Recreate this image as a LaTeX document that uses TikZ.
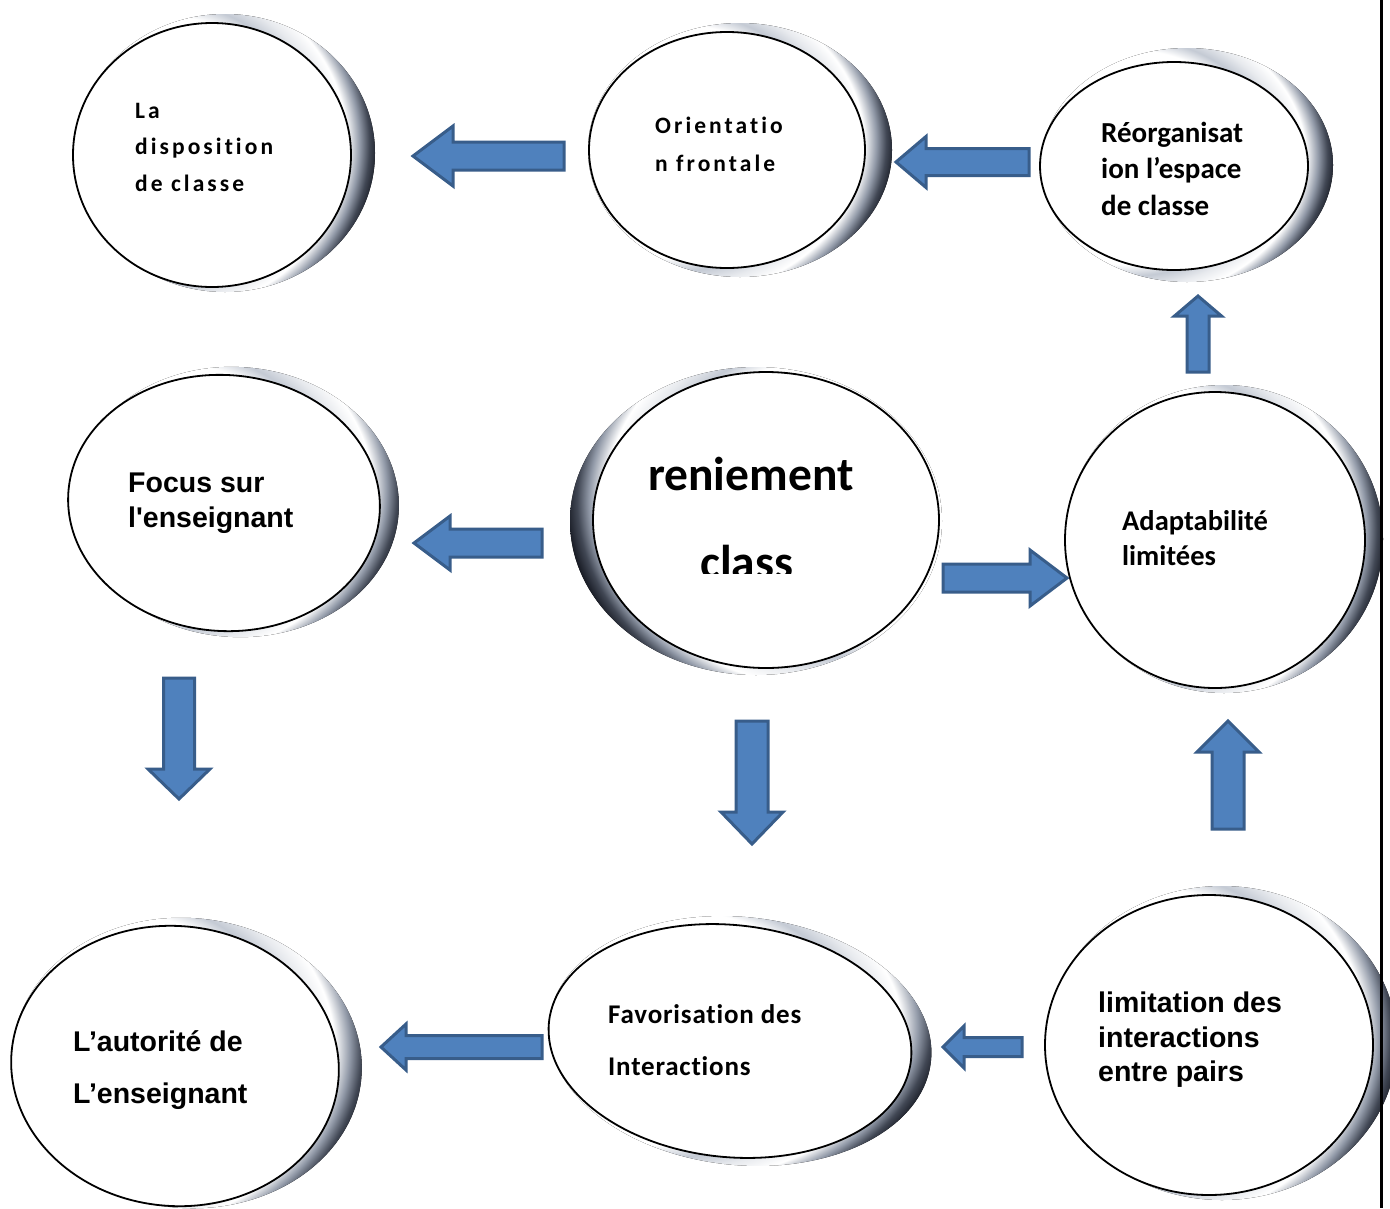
\documentclass[tikz,border=0pt]{standalone}
\usepackage{fontspec}
\setmainfont{Carlito}[Ligatures=NoCommon]
\newfontfamily\arialf{Liberation Sans}[Ligatures=TeXOff]
\newfontfamily\calsp{Carlito}[LetterSpace=13,Ligatures=NoCommon]
\newfontfamily\calfav{Carlito}[LetterSpace=3,Ligatures=NoCommon]
\usetikzlibrary{shapes.geometric}
\definecolor{arrowfill}{HTML}{4F81BD}
\definecolor{arrowline}{HTML}{385D8A}
\definecolor{ringdark}{RGB}{22,25,34}
\definecolor{ringmid}{RGB}{118,128,146}
\definecolor{ringlight}{RGB}{196,202,212}
\pgfdeclareradialshading{ringR}{\pgfpoint{-12bp}{2bp}}{color(0bp)=(white); color(23bp)=(white); color(25.5bp)=(ringlight); color(28bp)=(ringlight!40); color(30.5bp)=(white); color(32.5bp)=(ringmid!80); color(34bp)=(ringmid!45!ringdark); color(35.5bp)=(ringdark); color(37bp)=(ringdark!80); color(200bp)=(ringdark!80)}
\pgfdeclareradialshading{ringL}{\pgfpoint{12bp}{4bp}}{color(0bp)=(white); color(23bp)=(white); color(25.5bp)=(ringlight); color(28bp)=(ringlight!40); color(30.5bp)=(white); color(32.5bp)=(ringmid!80); color(34bp)=(ringmid!45!ringdark); color(35.5bp)=(ringdark); color(37bp)=(ringdark!80); color(200bp)=(ringdark!80)}
\newcommand{\brot}{0}
\tikzset{
  bub/.style={ellipse, draw=black, line width=1.8pt, fill=white, inner sep=0pt},
  blk/.style={fill=arrowfill, draw=arrowline, line width=3pt, line join=miter},
  lab/.style={anchor=base west, inner sep=0pt},
  fsp/.style={font=\calsp\bfseries\fontsize{23.5}{28}\selectfont},
  fcal/.style={font=\bfseries\fontsize{29}{34}\selectfont},
  fcalm/.style={font=\bfseries\fontsize{28.5}{34}\selectfont},
  fbig/.style={font=\bfseries\fontsize{47.5}{56}\selectfont},
  fari/.style={font=\arialf\bfseries\fontsize{28.5}{34}\selectfont},
  ffav/.style={font=\calfav\bfseries\fontsize{27}{32}\selectfont},
}
% name, cx, cy, rx, ry, {outer centre}, orx, ory, shading
\newcommand{\bubble}[9]{%
  \fill[shading=#9, rotate around={\brot:(#6)}] (#6) ellipse [x radius=#7pt, y radius=#8pt];
  \node[bub, rotate=\brot, minimum width=2*#4pt, minimum height=2*#5pt] (#1) at (#2,#3) {};
}
% tip x, tip y, angle, length, shaft half, head half, head length
\newcommand{\blkarrow}[7]{%
  \draw[blk, shift={(#1,#2)}, rotate=#3] (0,0) -- (#7,#6) -- (#7,#5) -- (#4,#5) -- (#4,-#5) -- (#7,-#5) -- (#7,-#6) -- cycle;
}
\begin{document}
\begin{tikzpicture}[x=1pt,y=-1pt]
\useasboundingbox (0,0) rectangle (1390,1208);
\fill[white] (0,0) rectangle (1390,1208);

\bubble{disp}{212}{155}{139}{132}{225,153}{150}{139}{ringR}
\bubble{orient}{727}{150}{138}{118}{740,150}{152}{127}{ringR}
\bubble{reorg}{1174}{166}{134}{104}{1187,165}{146}{117}{ringR}
\renewcommand{\brot}{-4}
\bubble{focus}{224}{503}{156}{128}{236,502}{163}{135}{ringR}
\renewcommand{\brot}{0}
\bubble{center}{766}{520}{173}{148}{756,521}{186}{154}{ringL}
\bubble{adapt}{1215}{540}{150}{148}{1224,539}{159}{154}{ringR}
\renewcommand{\brot}{-5}
\bubble{autor}{175}{1066}{164}{140}{187,1063}{175}{145}{ringR}
\renewcommand{\brot}{-6}
\bubble{favor}{730}{1041}{182}{116}{740,1041}{192}{124}{ringR}
\renewcommand{\brot}{0}
\bubble{limit}{1209}{1045}{164}{150}{1222,1043}{175}{157}{ringR}

% texts
\node[lab,fsp] (t1a) at (135,118) {La};
\node[lab,fsp] (t1b) at (135,154.5) {disposition};
\node[lab,fsp] (t1c) at (135,191) {de classe};

\node[lab,fsp] (t2a) at (655,133) {Orientatio};
\node[lab,fsp] (t2b) at (655,171) {n frontale};

\node[lab,fcal] (t3a) at (1101,142) {Réorganisat};
\node[lab,fcal] (t3b) at (1101,178) {ion l’espace};
\node[lab,fcal] (t3c) at (1101,215) {de classe};

\node[lab,fari] (t4a) at (128,492) {Focus sur};
\node[lab,fari] (t4b) at (128,527) {l'enseignant};

\node[lab,fbig] (t5a) at (648,490) {reniement};
\begin{scope}
  \clip (600,400) rectangle (900,573);
  \node[lab,fbig] (t5b) at (700,578) {class};
\end{scope}

\node[lab,fcalm] (t6a) at (1122,530) {Adaptabilité};
\node[lab,fcalm] (t6b) at (1122,565) {limitées};

\node[lab,fari] (t7a) at (73,1051) {L’autorité de};
\node[lab,fari] (t7b) at (73,1103) {L’enseignant};

\node[lab,ffav] (t8a) at (608,1023) {Favorisation des};
\node[lab,ffav] (t8b) at (608,1075) {Interactions};

\node[lab,fari] (t9a) at (1098,1012) {limitation des};
\node[lab,fari] (t9b) at (1098,1047) {interactions};
\node[lab,fari] (t9c) at (1098,1081) {entre pairs};

% block arrows
\blkarrow{413}{156}{0}{151}{14}{30}{40}
\blkarrow{896}{162}{0}{133}{13.5}{25.5}{30}
\blkarrow{1198}{296}{-90}{76}{11}{23.5}{20}
\blkarrow{414}{543}{0}{128}{14}{27}{36}
\blkarrow{1067}{578}{180}{124}{14}{28}{37}
\blkarrow{179}{799}{90}{121}{15.5}{31}{30}
\blkarrow{752}{844}{90}{123}{16}{31}{32}
\blkarrow{1228}{721}{-90}{108}{16}{31}{31}
\blkarrow{381}{1047}{0}{161}{11.5}{23}{25}
\blkarrow{943}{1047}{0}{79}{9.5}{21}{21}

% right border line
\draw[line width=2.5pt] (1381.5,0) -- (1381.5,1208);
\end{tikzpicture}
\end{document}
